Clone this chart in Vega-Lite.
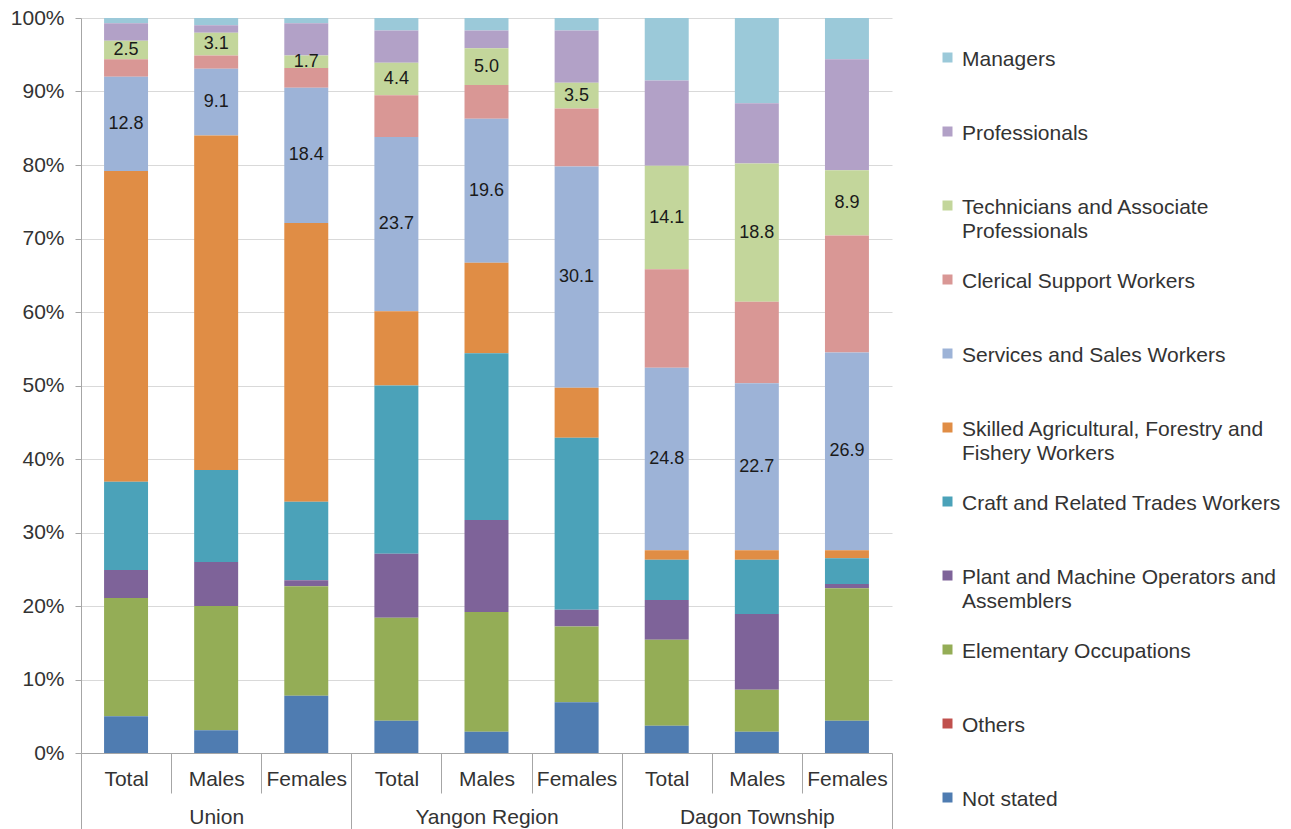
{
  "$schema": "https://vega.github.io/schema/vega-lite/v6.json",
  "width": 811,
  "height": 735,
  "autosize": {"type": "none"},
  "padding": {"left": 81, "top": 18, "right": 399, "bottom": 76},
  "background": "white",
  "config": {
    "view": {"stroke": null},
    "font": "Liberation Sans",
    "text": {"font": "Liberation Sans"}
  },
  "data": {
    "values": [
      {"bar": "Union|Total", "occupation": "Managers", "code": 1, "pct": 0.7},
      {"bar": "Union|Total", "occupation": "Professionals", "code": 2, "pct": 2.4},
      {"bar": "Union|Total", "occupation": "Technicians and Associate Professionals", "code": 3, "pct": 2.5},
      {"bar": "Union|Total", "occupation": "Clerical Support Workers", "code": 4, "pct": 2.4},
      {"bar": "Union|Total", "occupation": "Services and Sales Workers", "code": 5, "pct": 12.8},
      {"bar": "Union|Total", "occupation": "Skilled Agricultural, Forestry and Fishery Workers", "code": 6, "pct": 42.3},
      {"bar": "Union|Total", "occupation": "Craft and Related Trades Workers", "code": 7, "pct": 12.0},
      {"bar": "Union|Total", "occupation": "Plant and Machine Operators and Assemblers", "code": 8, "pct": 3.8},
      {"bar": "Union|Total", "occupation": "Elementary Occupations", "code": 9, "pct": 16.1},
      {"bar": "Union|Total", "occupation": "Others", "code": 10, "pct": 0.0},
      {"bar": "Union|Total", "occupation": "Not stated", "code": 11, "pct": 5.0},

      {"bar": "Union|Males", "occupation": "Managers", "code": 1, "pct": 1.0},
      {"bar": "Union|Males", "occupation": "Professionals", "code": 2, "pct": 1.0},
      {"bar": "Union|Males", "occupation": "Technicians and Associate Professionals", "code": 3, "pct": 3.1},
      {"bar": "Union|Males", "occupation": "Clerical Support Workers", "code": 4, "pct": 1.8},
      {"bar": "Union|Males", "occupation": "Services and Sales Workers", "code": 5, "pct": 9.1},
      {"bar": "Union|Males", "occupation": "Skilled Agricultural, Forestry and Fishery Workers", "code": 6, "pct": 45.5},
      {"bar": "Union|Males", "occupation": "Craft and Related Trades Workers", "code": 7, "pct": 12.5},
      {"bar": "Union|Males", "occupation": "Plant and Machine Operators and Assemblers", "code": 8, "pct": 6.0},
      {"bar": "Union|Males", "occupation": "Elementary Occupations", "code": 9, "pct": 16.9},
      {"bar": "Union|Males", "occupation": "Others", "code": 10, "pct": 0.0},
      {"bar": "Union|Males", "occupation": "Not stated", "code": 11, "pct": 3.1},

      {"bar": "Union|Females", "occupation": "Managers", "code": 1, "pct": 0.7},
      {"bar": "Union|Females", "occupation": "Professionals", "code": 2, "pct": 4.4},
      {"bar": "Union|Females", "occupation": "Technicians and Associate Professionals", "code": 3, "pct": 1.7},
      {"bar": "Union|Females", "occupation": "Clerical Support Workers", "code": 4, "pct": 2.7},
      {"bar": "Union|Females", "occupation": "Services and Sales Workers", "code": 5, "pct": 18.4},
      {"bar": "Union|Females", "occupation": "Skilled Agricultural, Forestry and Fishery Workers", "code": 6, "pct": 37.9},
      {"bar": "Union|Females", "occupation": "Craft and Related Trades Workers", "code": 7, "pct": 10.7},
      {"bar": "Union|Females", "occupation": "Plant and Machine Operators and Assemblers", "code": 8, "pct": 0.8},
      {"bar": "Union|Females", "occupation": "Elementary Occupations", "code": 9, "pct": 14.9},
      {"bar": "Union|Females", "occupation": "Others", "code": 10, "pct": 0.0},
      {"bar": "Union|Females", "occupation": "Not stated", "code": 11, "pct": 7.8},

      {"bar": "Yangon Region|Total", "occupation": "Managers", "code": 1, "pct": 1.7},
      {"bar": "Yangon Region|Total", "occupation": "Professionals", "code": 2, "pct": 4.4},
      {"bar": "Yangon Region|Total", "occupation": "Technicians and Associate Professionals", "code": 3, "pct": 4.4},
      {"bar": "Yangon Region|Total", "occupation": "Clerical Support Workers", "code": 4, "pct": 5.7},
      {"bar": "Yangon Region|Total", "occupation": "Services and Sales Workers", "code": 5, "pct": 23.7},
      {"bar": "Yangon Region|Total", "occupation": "Skilled Agricultural, Forestry and Fishery Workers", "code": 6, "pct": 10.1},
      {"bar": "Yangon Region|Total", "occupation": "Craft and Related Trades Workers", "code": 7, "pct": 22.9},
      {"bar": "Yangon Region|Total", "occupation": "Plant and Machine Operators and Assemblers", "code": 8, "pct": 8.7},
      {"bar": "Yangon Region|Total", "occupation": "Elementary Occupations", "code": 9, "pct": 14.0},
      {"bar": "Yangon Region|Total", "occupation": "Others", "code": 10, "pct": 0.0},
      {"bar": "Yangon Region|Total", "occupation": "Not stated", "code": 11, "pct": 4.4},

      {"bar": "Yangon Region|Males", "occupation": "Managers", "code": 1, "pct": 1.7},
      {"bar": "Yangon Region|Males", "occupation": "Professionals", "code": 2, "pct": 2.4},
      {"bar": "Yangon Region|Males", "occupation": "Technicians and Associate Professionals", "code": 3, "pct": 5.0},
      {"bar": "Yangon Region|Males", "occupation": "Clerical Support Workers", "code": 4, "pct": 4.6},
      {"bar": "Yangon Region|Males", "occupation": "Services and Sales Workers", "code": 5, "pct": 19.6},
      {"bar": "Yangon Region|Males", "occupation": "Skilled Agricultural, Forestry and Fishery Workers", "code": 6, "pct": 12.3},
      {"bar": "Yangon Region|Males", "occupation": "Craft and Related Trades Workers", "code": 7, "pct": 22.7},
      {"bar": "Yangon Region|Males", "occupation": "Plant and Machine Operators and Assemblers", "code": 8, "pct": 12.5},
      {"bar": "Yangon Region|Males", "occupation": "Elementary Occupations", "code": 9, "pct": 16.3},
      {"bar": "Yangon Region|Males", "occupation": "Others", "code": 10, "pct": 0.0},
      {"bar": "Yangon Region|Males", "occupation": "Not stated", "code": 11, "pct": 2.9},

      {"bar": "Yangon Region|Females", "occupation": "Managers", "code": 1, "pct": 1.7},
      {"bar": "Yangon Region|Females", "occupation": "Professionals", "code": 2, "pct": 7.1},
      {"bar": "Yangon Region|Females", "occupation": "Technicians and Associate Professionals", "code": 3, "pct": 3.5},
      {"bar": "Yangon Region|Females", "occupation": "Clerical Support Workers", "code": 4, "pct": 7.9},
      {"bar": "Yangon Region|Females", "occupation": "Services and Sales Workers", "code": 5, "pct": 30.1},
      {"bar": "Yangon Region|Females", "occupation": "Skilled Agricultural, Forestry and Fishery Workers", "code": 6, "pct": 6.8},
      {"bar": "Yangon Region|Females", "occupation": "Craft and Related Trades Workers", "code": 7, "pct": 23.4},
      {"bar": "Yangon Region|Females", "occupation": "Plant and Machine Operators and Assemblers", "code": 8, "pct": 2.3},
      {"bar": "Yangon Region|Females", "occupation": "Elementary Occupations", "code": 9, "pct": 10.3},
      {"bar": "Yangon Region|Females", "occupation": "Others", "code": 10, "pct": 0.0},
      {"bar": "Yangon Region|Females", "occupation": "Not stated", "code": 11, "pct": 6.9},

      {"bar": "Dagon Township|Total", "occupation": "Managers", "code": 1, "pct": 8.5},
      {"bar": "Dagon Township|Total", "occupation": "Professionals", "code": 2, "pct": 11.6},
      {"bar": "Dagon Township|Total", "occupation": "Technicians and Associate Professionals", "code": 3, "pct": 14.1},
      {"bar": "Dagon Township|Total", "occupation": "Clerical Support Workers", "code": 4, "pct": 13.4},
      {"bar": "Dagon Township|Total", "occupation": "Services and Sales Workers", "code": 5, "pct": 24.8},
      {"bar": "Dagon Township|Total", "occupation": "Skilled Agricultural, Forestry and Fishery Workers", "code": 6, "pct": 1.3},
      {"bar": "Dagon Township|Total", "occupation": "Craft and Related Trades Workers", "code": 7, "pct": 5.5},
      {"bar": "Dagon Township|Total", "occupation": "Plant and Machine Operators and Assemblers", "code": 8, "pct": 5.4},
      {"bar": "Dagon Township|Total", "occupation": "Elementary Occupations", "code": 9, "pct": 11.7},
      {"bar": "Dagon Township|Total", "occupation": "Others", "code": 10, "pct": 0.0},
      {"bar": "Dagon Township|Total", "occupation": "Not stated", "code": 11, "pct": 3.7},

      {"bar": "Dagon Township|Males", "occupation": "Managers", "code": 1, "pct": 11.6},
      {"bar": "Dagon Township|Males", "occupation": "Professionals", "code": 2, "pct": 8.2},
      {"bar": "Dagon Township|Males", "occupation": "Technicians and Associate Professionals", "code": 3, "pct": 18.8},
      {"bar": "Dagon Township|Males", "occupation": "Clerical Support Workers", "code": 4, "pct": 11.1},
      {"bar": "Dagon Township|Males", "occupation": "Services and Sales Workers", "code": 5, "pct": 22.7},
      {"bar": "Dagon Township|Males", "occupation": "Skilled Agricultural, Forestry and Fishery Workers", "code": 6, "pct": 1.3},
      {"bar": "Dagon Township|Males", "occupation": "Craft and Related Trades Workers", "code": 7, "pct": 7.4},
      {"bar": "Dagon Township|Males", "occupation": "Plant and Machine Operators and Assemblers", "code": 8, "pct": 10.3},
      {"bar": "Dagon Township|Males", "occupation": "Elementary Occupations", "code": 9, "pct": 5.7},
      {"bar": "Dagon Township|Males", "occupation": "Others", "code": 10, "pct": 0.0},
      {"bar": "Dagon Township|Males", "occupation": "Not stated", "code": 11, "pct": 2.9},

      {"bar": "Dagon Township|Females", "occupation": "Managers", "code": 1, "pct": 5.6},
      {"bar": "Dagon Township|Females", "occupation": "Professionals", "code": 2, "pct": 15.1},
      {"bar": "Dagon Township|Females", "occupation": "Technicians and Associate Professionals", "code": 3, "pct": 8.9},
      {"bar": "Dagon Township|Females", "occupation": "Clerical Support Workers", "code": 4, "pct": 15.9},
      {"bar": "Dagon Township|Females", "occupation": "Services and Sales Workers", "code": 5, "pct": 26.9},
      {"bar": "Dagon Township|Females", "occupation": "Skilled Agricultural, Forestry and Fishery Workers", "code": 6, "pct": 1.1},
      {"bar": "Dagon Township|Females", "occupation": "Craft and Related Trades Workers", "code": 7, "pct": 3.5},
      {"bar": "Dagon Township|Females", "occupation": "Plant and Machine Operators and Assemblers", "code": 8, "pct": 0.6},
      {"bar": "Dagon Township|Females", "occupation": "Elementary Occupations", "code": 9, "pct": 18.0},
      {"bar": "Dagon Township|Females", "occupation": "Others", "code": 10, "pct": 0.0},
      {"bar": "Dagon Township|Females", "occupation": "Not stated", "code": 11, "pct": 4.4}
    ]
  },
  "encoding": {
    "x": {
      "field": "bar",
      "type": "nominal",
      "sort": [
        "Union|Total", "Union|Males", "Union|Females",
        "Yangon Region|Total", "Yangon Region|Males", "Yangon Region|Females",
        "Dagon Township|Total", "Dagon Township|Males", "Dagon Township|Females"
      ],
      "scale": {"paddingInner": 0, "paddingOuter": 0},
      "axis": {
        "title": null,
        "grid": false,
        "labelAngle": 0,
        "tickBand": "extent",
        "tickSize": {
          "condition": {"test": "!isValid(datum.value) || indexof(datum.value, '|Females') >= 0", "value": 76},
          "value": 40
        },
        "labelPadding": {
          "condition": {"test": "!isValid(datum.value) || indexof(datum.value, '|Females') >= 0", "value": -61},
          "value": -25
        },
        "labelExpr": "split(datum.label, '|')[1] == 'Males' ? ['Males', split(datum.label, '|')[0]] : split(datum.label, '|')[1]",
        "labelLineHeight": 38,
        "labelFont": "Liberation Sans",
        "labelFontSize": 21,
        "labelColor": "#333333",
        "labelOverlap": false,
        "labelBound": false,
        "labelLimit": 300,
        "domainColor": "#A6A6A6",
        "tickColor": "#A6A6A6"
      }
    }
  },
  "layer": [
    {
      "mark": {"type": "bar", "strokeWidth": 0, "width": {"band": 0.488}},
      "encoding": {
        "y": {
          "field": "pct",
          "type": "quantitative",
          "stack": "zero",
          "scale": {"domain": [0, 100], "nice": false},
          "axis": {
            "title": null,
            "values": [0, 10, 20, 30, 40, 50, 60, 70, 80, 90, 100],
            "labelExpr": "datum.value + '%'",
            "tickSize": 6,
            "labelPadding": 11,
            "grid": true,
            "gridColor": "#D9D9D9",
            "domainColor": "#A6A6A6",
            "tickColor": "#A6A6A6",
            "labelFont": "Liberation Sans",
            "labelFontSize": 21,
            "labelColor": "#333333"
          }
        },
        "color": {
          "field": "occupation",
          "type": "nominal",
          "scale": {
            "domain": [
              "Managers",
              "Professionals",
              "Technicians and Associate Professionals",
              "Clerical Support Workers",
              "Services and Sales Workers",
              "Skilled Agricultural, Forestry and Fishery Workers",
              "Craft and Related Trades Workers",
              "Plant and Machine Operators and Assemblers",
              "Elementary Occupations",
              "Others",
              "Not stated"
            ],
            "range": [
              "#9BC9D9", "#B2A1C7", "#C3D69B", "#D99795", "#9DB3D7",
              "#E08D45", "#4BA2B9", "#7E6399", "#94AD56", "#C0504D", "#4F7CB1"
            ]
          },
          "legend": {
            "title": null,
            "orient": "none",
            "legendX": 856,
            "legendY": 29,
            "padding": 0,
            "symbolType": "square",
            "symbolSize": 100,
            "symbolStrokeWidth": 0,
            "labelFont": "Liberation Sans",
            "labelFontSize": 21,
            "labelColor": "#333333",
            "labelLimit": 400,
            "labelOffset": 4,
            "labelBaseline": "top",
            "gridAlign": "all",
            "rowPadding": 27,
            "labelExpr": "datum.label == 'Technicians and Associate Professionals' ? ['Technicians and Associate', 'Professionals'] : datum.label == 'Skilled Agricultural, Forestry and Fishery Workers' ? ['Skilled Agricultural, Forestry and', 'Fishery Workers'] : datum.label == 'Plant and Machine Operators and Assemblers' ? ['Plant and Machine Operators and', 'Assemblers'] : datum.label",
            "encode": {
              "labels": {"update": {"dy": {"value": -9}, "lineHeight": {"value": 24}}}
            }
          }
        },
        "order": {"field": "code", "type": "quantitative", "sort": "descending"}
      }
    },
    {
      "mark": {"type": "text", "fontSize": 18, "color": "#1A1A1A", "font": "Liberation Sans"},
      "encoding": {
        "y": {"field": "pct", "type": "quantitative", "stack": "zero", "bandPosition": 0.5},
        "detail": {"field": "occupation", "type": "nominal"},
        "order": {"field": "code", "type": "quantitative", "sort": "descending"},
        "text": {
          "condition": {
            "test": "datum.occupation === 'Services and Sales Workers' || datum.occupation === 'Technicians and Associate Professionals'",
            "field": "pct",
            "type": "quantitative",
            "format": ".1f"
          },
          "value": ""
        }
      }
    }
  ]
}
